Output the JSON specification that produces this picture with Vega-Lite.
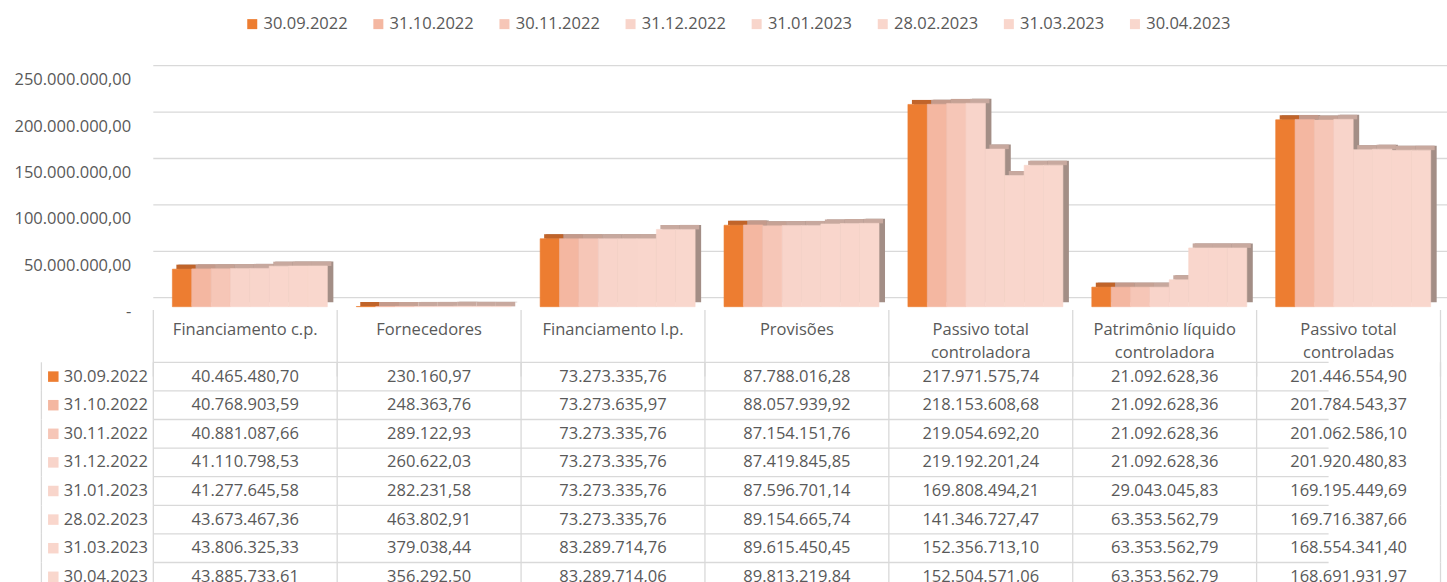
{
  "$schema": "https://vega.github.io/schema/vega-lite/v6.json",
  "width": 1287.2,
  "height": 582,
  "autosize": {"type": "none"},
  "padding": {"left": 153.3, "right": 6.5, "top": 0, "bottom": 0},
  "config": {"view": {"stroke": null}, "font": "Open Sans"},
  "datasets": {
    "main": [
      {"cat": "Financiamento c.p.", "date": "30.09.2022", "value": 40465480.70},
      {"cat": "Financiamento c.p.", "date": "31.10.2022", "value": 40768903.59},
      {"cat": "Financiamento c.p.", "date": "30.11.2022", "value": 40881087.66},
      {"cat": "Financiamento c.p.", "date": "31.12.2022", "value": 41110798.53},
      {"cat": "Financiamento c.p.", "date": "31.01.2023", "value": 41277645.58},
      {"cat": "Financiamento c.p.", "date": "28.02.2023", "value": 43673467.36},
      {"cat": "Financiamento c.p.", "date": "31.03.2023", "value": 43806325.33},
      {"cat": "Financiamento c.p.", "date": "30.04.2023", "value": 43885733.61},
      {"cat": "Fornecedores", "date": "30.09.2022", "value": 230160.97},
      {"cat": "Fornecedores", "date": "31.10.2022", "value": 248363.76},
      {"cat": "Fornecedores", "date": "30.11.2022", "value": 289122.93},
      {"cat": "Fornecedores", "date": "31.12.2022", "value": 260622.03},
      {"cat": "Fornecedores", "date": "31.01.2023", "value": 282231.58},
      {"cat": "Fornecedores", "date": "28.02.2023", "value": 463802.91},
      {"cat": "Fornecedores", "date": "31.03.2023", "value": 379038.44},
      {"cat": "Fornecedores", "date": "30.04.2023", "value": 356292.50},
      {"cat": "Financiamento l.p.", "date": "30.09.2022", "value": 73273335.76},
      {"cat": "Financiamento l.p.", "date": "31.10.2022", "value": 73273635.97},
      {"cat": "Financiamento l.p.", "date": "30.11.2022", "value": 73273335.76},
      {"cat": "Financiamento l.p.", "date": "31.12.2022", "value": 73273335.76},
      {"cat": "Financiamento l.p.", "date": "31.01.2023", "value": 73273335.76},
      {"cat": "Financiamento l.p.", "date": "28.02.2023", "value": 73273335.76},
      {"cat": "Financiamento l.p.", "date": "31.03.2023", "value": 83289714.76},
      {"cat": "Financiamento l.p.", "date": "30.04.2023", "value": 83289714.06},
      {"cat": "Provisões", "date": "30.09.2022", "value": 87788016.28},
      {"cat": "Provisões", "date": "31.10.2022", "value": 88057939.92},
      {"cat": "Provisões", "date": "30.11.2022", "value": 87154151.76},
      {"cat": "Provisões", "date": "31.12.2022", "value": 87419845.85},
      {"cat": "Provisões", "date": "31.01.2023", "value": 87596701.14},
      {"cat": "Provisões", "date": "28.02.2023", "value": 89154665.74},
      {"cat": "Provisões", "date": "31.03.2023", "value": 89615450.45},
      {"cat": "Provisões", "date": "30.04.2023", "value": 89813219.84},
      {"cat": "Passivo total controladora", "date": "30.09.2022", "value": 217971575.74},
      {"cat": "Passivo total controladora", "date": "31.10.2022", "value": 218153608.68},
      {"cat": "Passivo total controladora", "date": "30.11.2022", "value": 219054692.20},
      {"cat": "Passivo total controladora", "date": "31.12.2022", "value": 219192201.24},
      {"cat": "Passivo total controladora", "date": "31.01.2023", "value": 169808494.21},
      {"cat": "Passivo total controladora", "date": "28.02.2023", "value": 141346727.47},
      {"cat": "Passivo total controladora", "date": "31.03.2023", "value": 152356713.10},
      {"cat": "Passivo total controladora", "date": "30.04.2023", "value": 152504571.06},
      {"cat": "Patrimônio líquido controladora", "date": "30.09.2022", "value": 21092628.36},
      {"cat": "Patrimônio líquido controladora", "date": "31.10.2022", "value": 21092628.36},
      {"cat": "Patrimônio líquido controladora", "date": "30.11.2022", "value": 21092628.36},
      {"cat": "Patrimônio líquido controladora", "date": "31.12.2022", "value": 21092628.36},
      {"cat": "Patrimônio líquido controladora", "date": "31.01.2023", "value": 29043045.83},
      {"cat": "Patrimônio líquido controladora", "date": "28.02.2023", "value": 63353562.79},
      {"cat": "Patrimônio líquido controladora", "date": "31.03.2023", "value": 63353562.79},
      {"cat": "Patrimônio líquido controladora", "date": "30.04.2023", "value": 63353562.79},
      {"cat": "Passivo total controladas", "date": "30.09.2022", "value": 201446554.90},
      {"cat": "Passivo total controladas", "date": "31.10.2022", "value": 201784543.37},
      {"cat": "Passivo total controladas", "date": "30.11.2022", "value": 201062586.10},
      {"cat": "Passivo total controladas", "date": "31.12.2022", "value": 201920480.83},
      {"cat": "Passivo total controladas", "date": "31.01.2023", "value": 169195449.69},
      {"cat": "Passivo total controladas", "date": "28.02.2023", "value": 169716387.66},
      {"cat": "Passivo total controladas", "date": "31.03.2023", "value": 168554341.40},
      {"cat": "Passivo total controladas", "date": "30.04.2023", "value": 168691931.97}
    ],
    "grid": [{"v": 0}, {"v": 50000000}, {"v": 100000000}, {"v": 150000000}, {"v": 200000000}, {"v": 250000000}],
    "head": [
      {"cat": "Financiamento c.p.", "head": "Financiamento c.p."},
      {"cat": "Fornecedores", "head": "Fornecedores"},
      {"cat": "Financiamento l.p.", "head": "Financiamento l.p."},
      {"cat": "Provisões", "head": "Provisões"},
      {"cat": "Passivo total controladora", "head": "Passivo total\ncontroladora"},
      {"cat": "Patrimônio líquido controladora", "head": "Patrimônio líquido\ncontroladora"},
      {"cat": "Passivo total controladas", "head": "Passivo total\ncontroladas"}
    ]
  },
  "resolve": {
    "scale": {"y": "independent", "color": "independent", "xOffset": "independent"},
    "axis": {"y": "independent"},
    "legend": {"color": "independent"}
  },
  "layer": [
    {
      "data": {"name": "grid"},
      "mark": {"type": "rule", "color": "#D9D9D9", "strokeWidth": 1.3, "xOffset": 16.7, "x2Offset": 6.5, "yOffset": -9},
      "encoding": {
        "y": {
          "field": "v", "type": "quantitative",
          "scale": {"domain": [0, 250000000], "range": [306.7, 74.7], "nice": false, "zero": true},
          "axis": {
            "values": [0, 50000000, 100000000, 150000000, 200000000, 250000000],
            "labelExpr": "datum.value === 0 ? '-\u2007' : replace(replace(replace(format(datum.value, ',.2f'), regexp(',', 'g'), '#'), regexp('[.]', 'g'), ','), regexp('#', 'g'), '.')",
            "labelOffset": 5, "labelPadding": 22.6, "ticks": false, "domain": false, "grid": false,
            "labelFontSize": 16.5, "labelColor": "#595959", "labelFont": "Open Sans", "title": null
          }
        }
      }
    },
    {
      "data": {"name": "main"},
      "mark": {"type": "bar", "color": "#A38E86", "yOffset": -4.5, "y2Offset": -4.5},
      "encoding": {
        "x": {"field": "cat", "type": "nominal", "scale": {"domain": ["Financiamento c.p.", "Fornecedores", "Financiamento l.p.", "Provisões", "Passivo total controladora", "Patrimônio líquido controladora", "Passivo total controladas"], "paddingInner": 0, "paddingOuter": 0}, "axis": null},
        "xOffset": {"field": "date", "type": "nominal", "scale": {"domain": ["30.09.2022", "31.10.2022", "30.11.2022", "31.12.2022", "31.01.2023", "28.02.2023", "31.03.2023", "30.04.2023"], "range": [6, 189.886], "paddingInner": 0, "paddingOuter": 0.746, "align": 0.66}},
        "y": {"field": "value", "type": "quantitative", "scale": {"domain": [0, 250000000], "range": [306.7, 74.7], "nice": false, "zero": true}, "axis": null}
      }
    },
    {
      "data": {"name": "main"},
      "mark": {"type": "bar", "yOffset": -4.5, "y2Offset": 0},
      "encoding": {
        "x": {"field": "cat", "type": "nominal", "axis": null},
        "xOffset": {"field": "date", "type": "nominal", "scale": {"domain": ["30.09.2022", "31.10.2022", "30.11.2022", "31.12.2022", "31.01.2023", "28.02.2023", "31.03.2023", "30.04.2023"], "range": [4, 187.886], "paddingInner": 0, "paddingOuter": 0.746, "align": 0.66}},
        "y": {"field": "value", "type": "quantitative", "scale": {"domain": [0, 250000000], "range": [306.7, 74.7], "nice": false, "zero": true}, "axis": null},
        "y2": {"field": "value"},
        "color": {"field": "date", "type": "nominal", "scale": {"domain": ["30.09.2022", "31.10.2022", "30.11.2022", "31.12.2022", "31.01.2023", "28.02.2023", "31.03.2023", "30.04.2023"], "range": ["#C0642A", "#C49A8B", "#C6A295", "#C7A89E", "#C7A89E", "#C8A99F", "#C8A99F", "#C8A99F"]}, "legend": null}
      }
    },
    {
      "data": {"name": "main"},
      "mark": {"type": "bar", "strokeWidth": 0.6},
      "encoding": {
        "x": {"field": "cat", "type": "nominal", "axis": null},
        "xOffset": {"field": "date", "type": "nominal", "scale": {"domain": ["30.09.2022", "31.10.2022", "30.11.2022", "31.12.2022", "31.01.2023", "28.02.2023", "31.03.2023", "30.04.2023"], "range": [0, 183.886], "paddingInner": 0, "paddingOuter": 0.746, "align": 0.66}},
        "y": {"field": "value", "type": "quantitative", "scale": {"domain": [0, 250000000], "range": [306.7, 74.7], "nice": false, "zero": true}, "axis": null},
        "stroke": {"field": "date", "type": "nominal", "scale": {"domain": ["30.09.2022", "31.10.2022", "30.11.2022", "31.12.2022", "31.01.2023", "28.02.2023", "31.03.2023", "30.04.2023"], "range": ["#ED7D31", "#F4B7A1", "#F6C6B7", "#F8D4CA", "#F8D5CB", "#F9D6CC", "#F9D6CC", "#F9D7CD"]}, "legend": null},
        "color": {
          "field": "date", "type": "nominal",
          "scale": {"domain": ["30.09.2022", "31.10.2022", "30.11.2022", "31.12.2022", "31.01.2023", "28.02.2023", "31.03.2023", "30.04.2023"], "range": ["#ED7D31", "#F4B7A1", "#F6C6B7", "#F8D4CA", "#F8D5CB", "#F9D6CC", "#F9D6CC", "#F9D7CD"]},
          "legend": {
            "orient": "none", "legendX": 90.7, "legendY": 15.75, "direction": "horizontal",
            "title": null, "symbolType": "square", "symbolSize": 100, "symbolStrokeWidth": 0,
            "labelFontSize": 16.5, "labelColor": "#595959", "labelFont": "Open Sans", "labelOffset": 3, "columnPadding": 22.1
          }
        }
      }
    },
    {
      "data": {"name": "main"},
      "transform": [{"filter": "datum.cat === 'Financiamento c.p.'"}],
      "mark": {"type": "rule", "color": "#D9D9D9", "strokeWidth": 1.3, "xOffset": -111.9},
      "encoding": {
        "y": {"field": "date", "type": "nominal", "bandPosition": 0, "scale": {"domain": ["30.09.2022", "31.10.2022", "30.11.2022", "31.12.2022", "31.01.2023", "28.02.2023", "31.03.2023", "30.04.2023"], "range": [362.3, 591.1], "paddingInner": 0, "paddingOuter": 0}, "axis": null}
      }
    },
    {
      "data": {"name": "main"},
      "mark": {"type": "rule", "color": "#D9D9D9", "strokeWidth": 1.3, "yOffset": -14.3, "y2Offset": 14.3},
      "encoding": {
        "x": {"field": "cat", "type": "nominal", "bandPosition": 0, "axis": null},
        "y": {"field": "date", "type": "nominal", "scale": {"domain": ["30.09.2022", "31.10.2022", "30.11.2022", "31.12.2022", "31.01.2023", "28.02.2023", "31.03.2023", "30.04.2023"], "range": [362.3, 591.1], "paddingInner": 0, "paddingOuter": 0}, "axis": null},
        "y2": {"field": "date"}
      }
    },
    {
      "data": {"name": "main"},
      "transform": [{"filter": "datum.date === '30.09.2022'"}],
      "mark": {"type": "rule", "color": "#D9D9D9", "strokeWidth": 1.3, "yOffset": -66.6, "y2Offset": 0},
      "encoding": {
        "x": {"field": "cat", "type": "nominal", "bandPosition": 0, "axis": null},
        "y": {"field": "date", "type": "nominal", "scale": {"domain": ["30.09.2022", "31.10.2022", "30.11.2022", "31.12.2022", "31.01.2023", "28.02.2023", "31.03.2023", "30.04.2023"], "range": [362.3, 591.1], "paddingInner": 0, "paddingOuter": 0}, "axis": null},
        "y2": {"field": "date"}
      }
    },
    {
      "data": {"name": "main"},
      "transform": [{"filter": "datum.cat === 'Passivo total controladas'"}],
      "mark": {"type": "rule", "color": "#D9D9D9", "strokeWidth": 1.3, "yOffset": -14.3, "y2Offset": 14.3},
      "encoding": {
        "x": {"field": "cat", "type": "nominal", "bandPosition": 1, "axis": null},
        "y": {"field": "date", "type": "nominal", "scale": {"domain": ["30.09.2022", "31.10.2022", "30.11.2022", "31.12.2022", "31.01.2023", "28.02.2023", "31.03.2023", "30.04.2023"], "range": [362.3, 591.1], "paddingInner": 0, "paddingOuter": 0}, "axis": null},
        "y2": {"field": "date"}
      }
    },
    {
      "data": {"name": "main"},
      "transform": [{"filter": "datum.cat === 'Passivo total controladas' && datum.date === '30.09.2022'"}],
      "mark": {"type": "rule", "color": "#D9D9D9", "strokeWidth": 1.3, "yOffset": -66.6, "y2Offset": 0},
      "encoding": {
        "x": {"field": "cat", "type": "nominal", "bandPosition": 1, "axis": null},
        "y": {"field": "date", "type": "nominal", "scale": {"domain": ["30.09.2022", "31.10.2022", "30.11.2022", "31.12.2022", "31.01.2023", "28.02.2023", "31.03.2023", "30.04.2023"], "range": [362.3, 591.1], "paddingInner": 0, "paddingOuter": 0}, "axis": null},
        "y2": {"field": "date"}
      }
    },
    {
      "data": {"name": "main"},
      "transform": [{"filter": "datum.cat === 'Financiamento c.p.'"}],
      "mark": {"type": "rule", "color": "#D9D9D9", "strokeWidth": 1.3, "xOffset": -111.9, "yOffset": -14.3, "y2Offset": 14.3},
      "encoding": {
        "x": {"field": "cat", "type": "nominal", "bandPosition": 0, "axis": null},
        "y": {"field": "date", "type": "nominal", "scale": {"domain": ["30.09.2022", "31.10.2022", "30.11.2022", "31.12.2022", "31.01.2023", "28.02.2023", "31.03.2023", "30.04.2023"], "range": [362.3, 591.1], "paddingInner": 0, "paddingOuter": 0}, "axis": null},
        "y2": {"field": "date"}
      }
    },
    {
      "data": {"name": "main"},
      "transform": [{"calculate": "replace(replace(replace(format(datum.value, ',.2f'), regexp(',', 'g'), '#'), regexp('[.]', 'g'), ','), regexp('#', 'g'), '.')", "as": "label"}],
      "mark": {"type": "text", "fontSize": 16.5, "color": "#595959", "font": "Open Sans"},
      "encoding": {
        "x": {"field": "cat", "type": "nominal", "axis": null},
        "y": {"field": "date", "type": "nominal", "scale": {"domain": ["30.09.2022", "31.10.2022", "30.11.2022", "31.12.2022", "31.01.2023", "28.02.2023", "31.03.2023", "30.04.2023"], "range": [362.3, 591.1], "paddingInner": 0, "paddingOuter": 0}, "axis": null},
        "text": {"field": "label"}
      }
    },
    {
      "data": {"name": "main"},
      "transform": [
        {"filter": "datum.date === '30.09.2022'"},
        {"lookup": "cat", "from": {"data": {"name": "head"}, "key": "cat", "fields": ["head"]}}
      ],
      "mark": {"type": "text", "fontSize": 16.5, "color": "#595959", "font": "Open Sans", "lineBreak": "\n", "lineHeight": 22.7, "baseline": "alphabetic", "yOffset": -41.6},
      "encoding": {
        "x": {"field": "cat", "type": "nominal", "axis": null},
        "y": {"field": "date", "type": "nominal", "scale": {"domain": ["30.09.2022", "31.10.2022", "30.11.2022", "31.12.2022", "31.01.2023", "28.02.2023", "31.03.2023", "30.04.2023"], "range": [362.3, 591.1], "paddingInner": 0, "paddingOuter": 0}, "axis": null},
        "text": {"field": "head"}
      }
    },
    {
      "data": {"name": "main"},
      "transform": [{"filter": "datum.cat === 'Financiamento c.p.'"}],
      "mark": {"type": "point", "shape": "square", "filled": true, "size": 110, "opacity": 1, "xOffset": -100},
      "encoding": {
        "x": {"field": "cat", "type": "nominal", "bandPosition": 0, "axis": null},
        "y": {"field": "date", "type": "nominal", "scale": {"domain": ["30.09.2022", "31.10.2022", "30.11.2022", "31.12.2022", "31.01.2023", "28.02.2023", "31.03.2023", "30.04.2023"], "range": [362.3, 591.1], "paddingInner": 0, "paddingOuter": 0}, "axis": null},
        "color": {"field": "date", "type": "nominal", "scale": {"domain": ["30.09.2022", "31.10.2022", "30.11.2022", "31.12.2022", "31.01.2023", "28.02.2023", "31.03.2023", "30.04.2023"], "range": ["#ED7D31", "#F4B7A1", "#F6C6B7", "#F8D4CA", "#F8D5CB", "#F9D6CC", "#F9D6CC", "#F9D7CD"]}, "legend": null}
      }
    },
    {
      "data": {"name": "main"},
      "transform": [{"filter": "datum.cat === 'Financiamento c.p.'"}],
      "mark": {"type": "text", "align": "left", "fontSize": 16.5, "color": "#595959", "font": "Open Sans", "xOffset": -89.5},
      "encoding": {
        "x": {"field": "cat", "type": "nominal", "bandPosition": 0, "axis": null},
        "y": {"field": "date", "type": "nominal", "scale": {"domain": ["30.09.2022", "31.10.2022", "30.11.2022", "31.12.2022", "31.01.2023", "28.02.2023", "31.03.2023", "30.04.2023"], "range": [362.3, 591.1], "paddingInner": 0, "paddingOuter": 0}, "axis": null},
        "text": {"field": "date"}
      }
    }
  ]
}
